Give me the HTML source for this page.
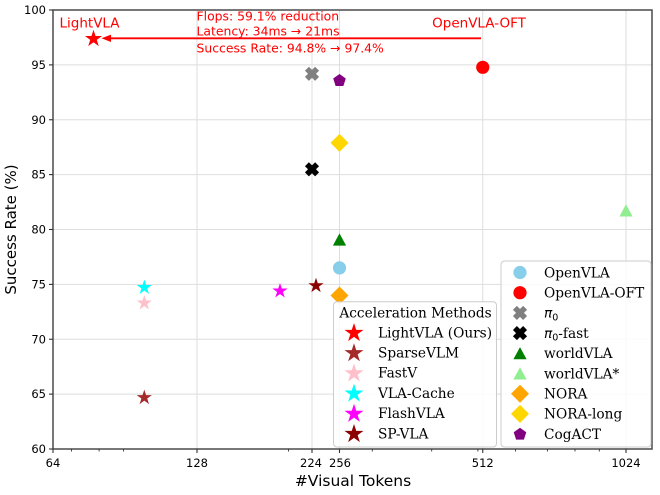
<!DOCTYPE html>
<html>
<head>
<meta charset="utf-8">
<style>
  html,body{margin:0;padding:0;background:#fff;}
  svg{display:block;}
  .tk{font-family:"DejaVu Sans","Liberation Sans",sans-serif;font-size:11.5px;fill:#000;}
  .lg{font-family:"DejaVu Serif","Liberation Serif",serif;font-size:13.7px;fill:#000;}
  .an{font-family:"DejaVu Sans","Liberation Sans",sans-serif;fill:#ff0000;}
</style>
</head>
<body>
<svg width="660" height="495" viewBox="0 0 660 495" xmlns="http://www.w3.org/2000/svg">
  <defs>
    <polygon id="star" points="0,-1 0.2245,-0.309 0.9511,-0.309 0.3633,0.118 0.5878,0.809 0,0.382 -0.5878,0.809 -0.3633,0.118 -0.9511,-0.309 -0.2245,-0.309"/>
    <polygon id="pent" points="0,-1 0.9511,-0.309 0.5878,0.809 -0.5878,0.809 -0.9511,-0.309"/>
    <polygon id="xm" transform="rotate(45)" points="-2.8,-7.2 2.8,-7.2 2.8,-2.8 7.2,-2.8 7.2,2.8 2.8,2.8 2.8,7.2 -2.8,7.2 -2.8,2.8 -7.2,2.8 -7.2,-2.8 -2.8,-2.8"/>
    <polygon id="tri" points="0,-6.2 6.6,6 -6.6,6"/>
    <polygon id="dia" points="0,-9 9,0 0,9 -9,0"/>
  </defs>

  <rect x="0" y="0" width="660" height="495" fill="#fff"/>

  <!-- grid -->
  <g stroke="#dedede" stroke-width="1">
    <line x1="197" y1="10" x2="197" y2="449"/>
    <line x1="312" y1="10" x2="312" y2="449"/>
    <line x1="339.5" y1="10" x2="339.5" y2="449"/>
    <line x1="482.75" y1="10" x2="482.75" y2="449"/>
    <line x1="626" y1="10" x2="626" y2="449"/>
    <line x1="53" y1="64.9" x2="652" y2="64.9"/>
    <line x1="53" y1="119.75" x2="652" y2="119.75"/>
    <line x1="53" y1="174.6" x2="652" y2="174.6"/>
    <line x1="53" y1="229.5" x2="652" y2="229.5"/>
    <line x1="53" y1="284.4" x2="652" y2="284.4"/>
    <line x1="53" y1="339.25" x2="652" y2="339.25"/>
    <line x1="53" y1="394.1" x2="652" y2="394.1"/>
  </g>

  <!-- data markers -->
  <use href="#star" transform="translate(93.5,38.8) scale(9)" fill="#ff0000"/>
  <use href="#star" transform="translate(144.3,397.6) scale(8)" fill="#a52a2a"/>
  <use href="#star" transform="translate(144.3,303) scale(8)" fill="#ffc0cb"/>
  <use href="#star" transform="translate(144.3,287.5) scale(8)" fill="#00ffff"/>
  <use href="#star" transform="translate(280,291) scale(8)" fill="#ff00ff"/>
  <use href="#star" transform="translate(316,285.7) scale(8)" fill="#8b0000"/>

  <circle cx="339.5" cy="267.9" r="6.6" fill="#87ceeb"/>
  <circle cx="482.75" cy="67.3" r="6.6" fill="#ff0000"/>
  <use href="#xm" transform="translate(312,73.8)" fill="#808080"/>
  <use href="#xm" transform="translate(312,169.3)" fill="#000000"/>
  <use href="#tri" transform="translate(339.5,239.6)" fill="#008000"/>
  <use href="#tri" transform="translate(626,210.5)" fill="#90ee90"/>
  <use href="#dia" transform="translate(339.5,295.5)" fill="#ffa500"/>
  <use href="#dia" transform="translate(339.5,142.9)" fill="#ffd700"/>
  <use href="#pent" transform="translate(339.5,80.6) scale(6.6)" fill="#800080"/>

  <!-- annotation -->
  <line x1="109" y1="38.3" x2="481" y2="38.3" stroke="#ff0000" stroke-width="1.8"/>
  <polygon points="101.5,38.3 111,34.6 111,42" fill="#ff0000"/>
  <text class="an" x="89.5" y="27.5" font-size="13.5" text-anchor="middle">LightVLA</text>
  <text class="an" x="479" y="27.5" font-size="13.5" text-anchor="middle">OpenVLA-OFT</text>
  <text class="an" x="196.5" y="20.5" font-size="12.4">Flops: 59.1% reduction</text>
  <text class="an" x="196.5" y="35.3" font-size="12.4">Latency: 34ms → 21ms</text>
  <text class="an" x="196.5" y="52.6" font-size="12.4">Success Rate: 94.8% → 97.4%</text>

  <!-- spines -->
  <rect x="53" y="10" width="599" height="439" fill="none" stroke="#4a4a4a" stroke-width="1.5"/>

  <!-- y ticks -->
  <g stroke="#333" stroke-width="1.1">
    <line x1="49" y1="10" x2="53" y2="10"/>
    <line x1="49" y1="64.9" x2="53" y2="64.9"/>
    <line x1="49" y1="119.75" x2="53" y2="119.75"/>
    <line x1="49" y1="174.6" x2="53" y2="174.6"/>
    <line x1="49" y1="229.5" x2="53" y2="229.5"/>
    <line x1="49" y1="284.4" x2="53" y2="284.4"/>
    <line x1="49" y1="339.25" x2="53" y2="339.25"/>
    <line x1="49" y1="394.1" x2="53" y2="394.1"/>
    <line x1="49" y1="449" x2="53" y2="449"/>
    <!-- x major -->
    <line x1="53" y1="449" x2="53" y2="453"/>
    <line x1="197" y1="449" x2="197" y2="453"/>
    <line x1="312" y1="449" x2="312" y2="453"/>
    <line x1="339.5" y1="449" x2="339.5" y2="453"/>
    <line x1="482.75" y1="449" x2="482.75" y2="453"/>
    <line x1="626" y1="449" x2="626" y2="453"/>
  </g>
  <g stroke="#333" stroke-width="0.9">
    <line x1="71.5" y1="449" x2="71.5" y2="451.5"/>
    <line x1="99.1" y1="449" x2="99.1" y2="451.5"/>
    <line x1="123.5" y1="449" x2="123.5" y2="451.5"/>
    <line x1="288.5" y1="449" x2="288.5" y2="451.5"/>
    <line x1="372.3" y1="449" x2="372.3" y2="451.5"/>
    <line x1="431.7" y1="449" x2="431.7" y2="451.5"/>
    <line x1="477.9" y1="449" x2="477.9" y2="451.5"/>
    <line x1="515.5" y1="449" x2="515.5" y2="451.5"/>
    <line x1="547.4" y1="449" x2="547.4" y2="451.5"/>
    <line x1="575" y1="449" x2="575" y2="451.5"/>
    <line x1="599.3" y1="449" x2="599.3" y2="451.5"/>
  </g>

  <!-- tick labels -->
  <g class="tk" text-anchor="end">
    <text x="46" y="14">100</text>
    <text x="46" y="68.9">95</text>
    <text x="46" y="123.75">90</text>
    <text x="46" y="178.6">85</text>
    <text x="46" y="233.5">80</text>
    <text x="46" y="288.4">75</text>
    <text x="46" y="343.25">70</text>
    <text x="46" y="398.1">65</text>
    <text x="46" y="453">60</text>
  </g>
  <g class="tk" text-anchor="middle">
    <text x="53" y="467">64</text>
    <text x="197" y="467">128</text>
    <text x="311" y="467">224</text>
    <text x="340" y="467">256</text>
    <text x="482.75" y="467">512</text>
    <text x="626" y="467">1024</text>
  </g>

  <!-- axis labels -->
  <text x="353" y="486" text-anchor="middle" font-family="DejaVu Sans, Liberation Sans, sans-serif" font-size="15.5" fill="#000">#Visual Tokens</text>
  <text transform="translate(16,229.5) rotate(-90)" text-anchor="middle" font-family="DejaVu Sans, Liberation Sans, sans-serif" font-size="15" fill="#000">Success Rate (%)</text>

  <!-- legend 1 -->
  <rect x="333.5" y="301.7" width="163" height="145.3" rx="3.5" fill="#fff" fill-opacity="0.85" stroke="#cccccc" stroke-width="1"/>
  <text class="lg" x="415.5" y="317.3" text-anchor="middle">Acceleration Methods</text>
  <use href="#star" transform="translate(354,333) scale(10)" fill="#ff0000"/>
  <use href="#star" transform="translate(354,353.2) scale(10)" fill="#a52a2a"/>
  <use href="#star" transform="translate(354,373.4) scale(10)" fill="#ffc0cb"/>
  <use href="#star" transform="translate(354,393.6) scale(10)" fill="#00ffff"/>
  <use href="#star" transform="translate(354,413.8) scale(10)" fill="#ff00ff"/>
  <use href="#star" transform="translate(354,434) scale(10)" fill="#8b0000"/>
  <text class="lg" x="378" y="337.3">LightVLA (Ours)</text>
  <text class="lg" x="378" y="357.5">SparseVLM</text>
  <text class="lg" x="378" y="377.7">FastV</text>
  <text class="lg" x="378" y="397.9">VLA-Cache</text>
  <text class="lg" x="378" y="418.1">FlashVLA</text>
  <text class="lg" x="378" y="438.3">SP-VLA</text>

  <!-- legend 2 -->
  <rect x="501" y="261" width="150" height="186" rx="3.5" fill="#fff" fill-opacity="0.85" stroke="#cccccc" stroke-width="1"/>
  <circle cx="520" cy="272.5" r="6.6" fill="#87ceeb"/>
  <circle cx="520" cy="292.7" r="6.6" fill="#ff0000"/>
  <use href="#xm" transform="translate(520,312.9)" fill="#808080"/>
  <use href="#xm" transform="translate(520,333.1)" fill="#000000"/>
  <use href="#tri" transform="translate(520,353.3)" fill="#008000"/>
  <use href="#tri" transform="translate(520,373.5)" fill="#90ee90"/>
  <use href="#dia" transform="translate(520,393.7)" fill="#ffa500"/>
  <use href="#dia" transform="translate(520,413.9)" fill="#ffd700"/>
  <use href="#pent" transform="translate(520,434.3) scale(6.6)" fill="#800080"/>
  <text class="lg" x="544" y="277.3">OpenVLA</text>
  <text class="lg" x="544" y="297.5">OpenVLA-OFT</text>
  <text class="lg" x="544" y="317.7"><tspan font-family="DejaVu Sans, sans-serif" font-style="italic">π</tspan><tspan font-family="DejaVu Sans, sans-serif" font-size="9.5" dy="2.8">0</tspan></text>
  <text class="lg" x="544" y="337.9"><tspan font-family="DejaVu Sans, sans-serif" font-style="italic">π</tspan><tspan font-family="DejaVu Sans, sans-serif" font-size="9.5" dy="2.8">0</tspan><tspan dy="-2.8">-fast</tspan></text>
  <text class="lg" x="544" y="358.1">worldVLA</text>
  <text class="lg" x="544" y="378.3">worldVLA*</text>
  <text class="lg" x="544" y="398.5">NORA</text>
  <text class="lg" x="544" y="418.7">NORA-long</text>
  <text class="lg" x="544" y="438.9">CogACT</text>
</svg>
</body>
</html>
